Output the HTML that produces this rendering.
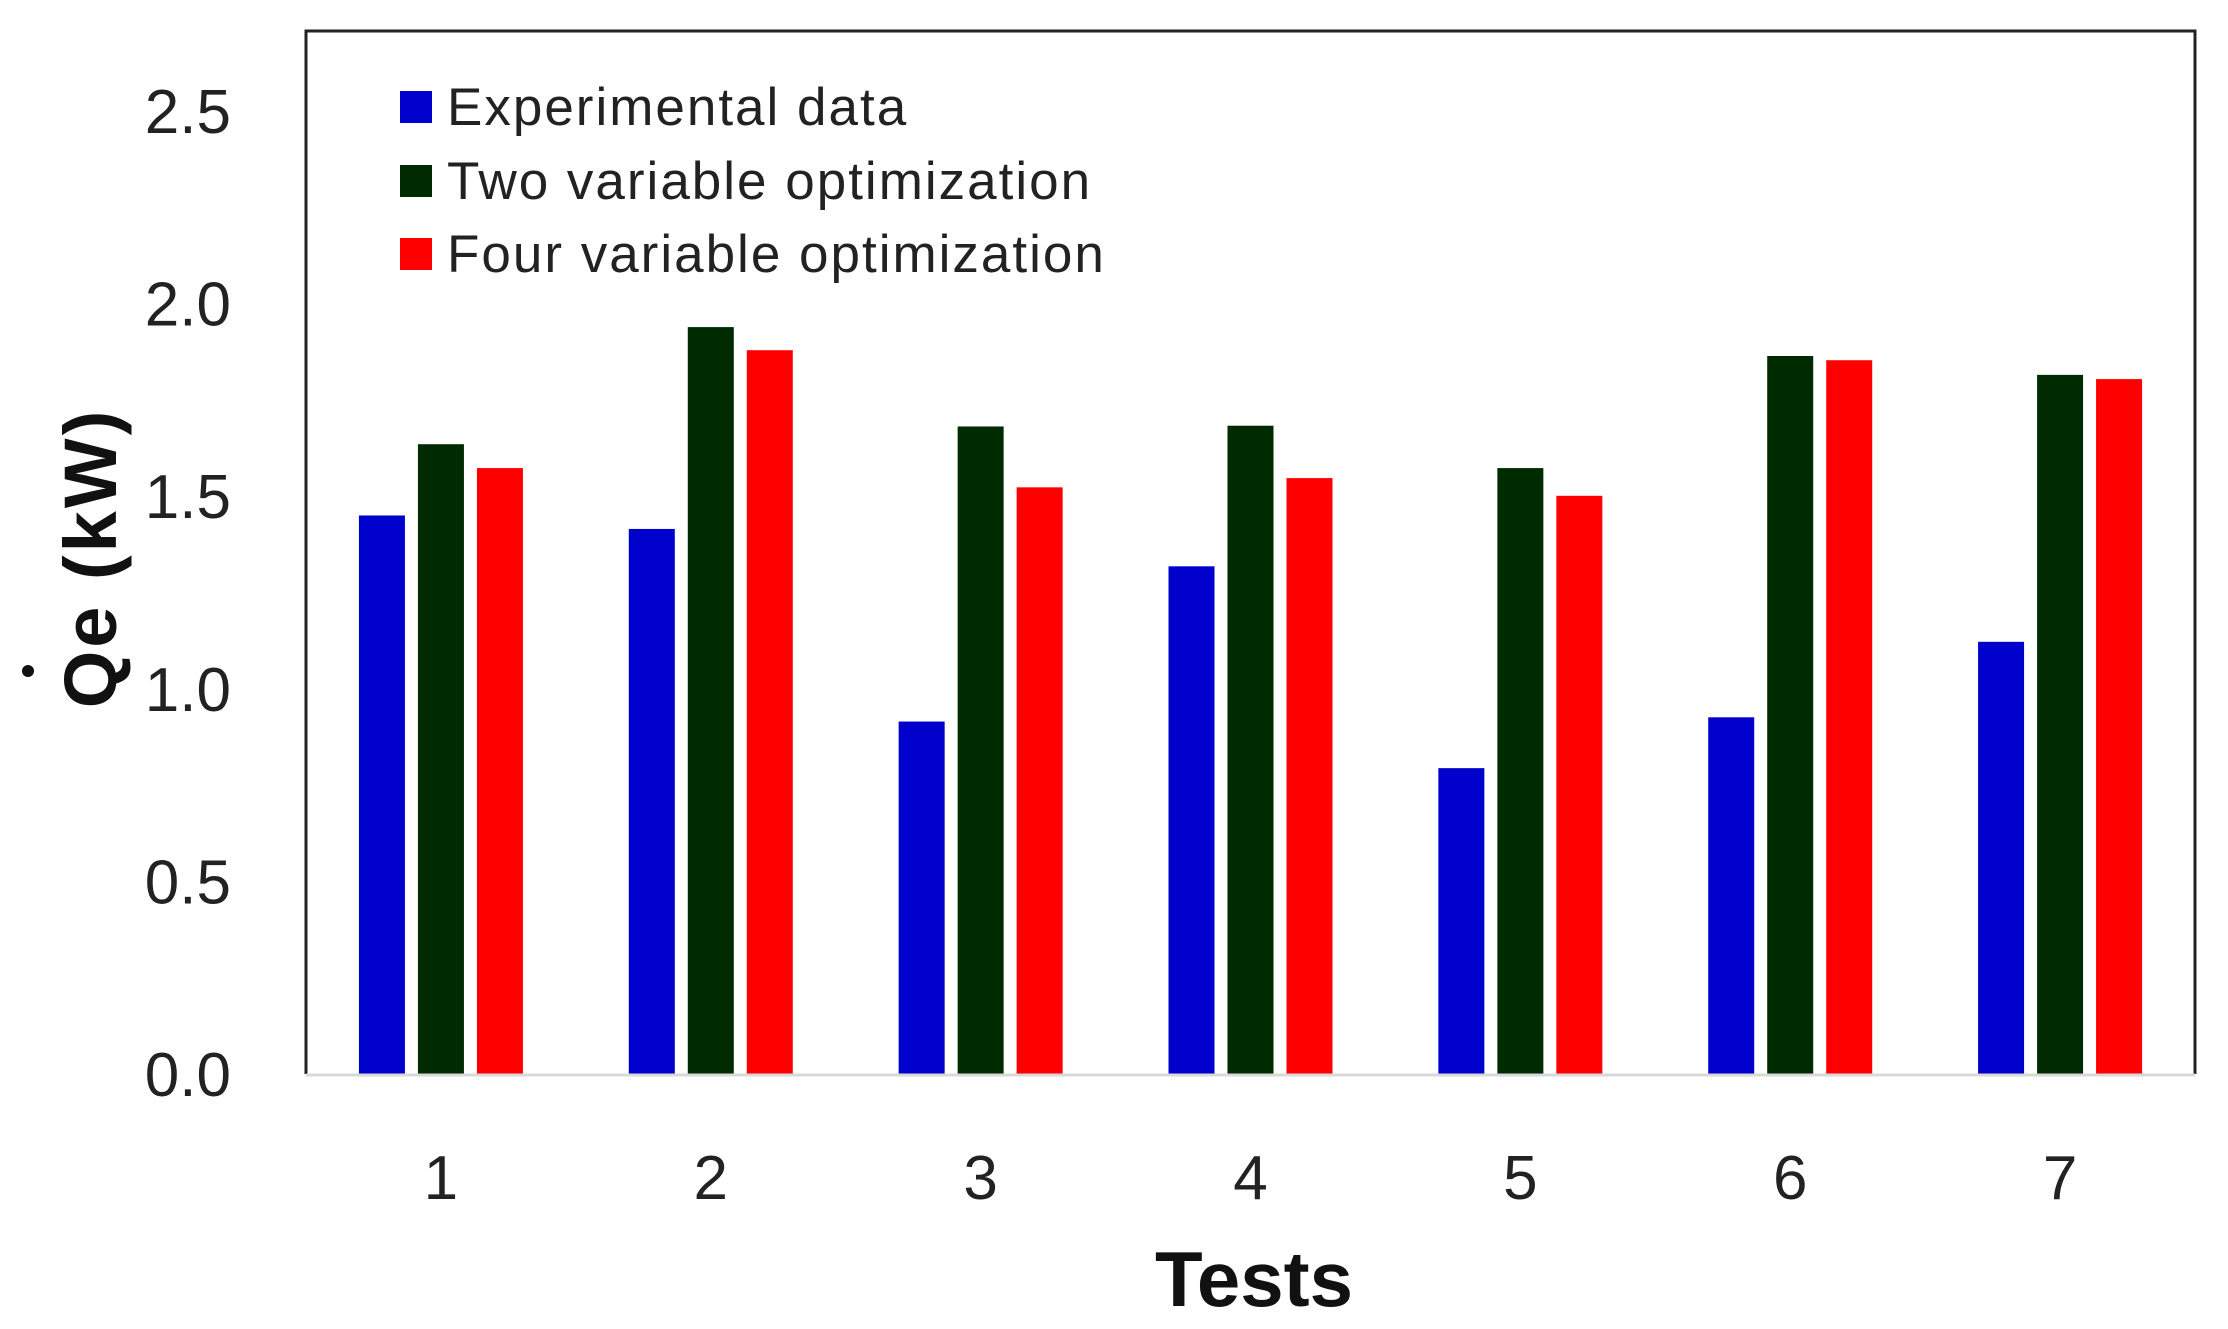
<!DOCTYPE html>
<html><head><meta charset="utf-8"><style>
html,body{margin:0;padding:0;background:#fff;}
svg{display:block;font-family:"Liberation Sans",sans-serif;}
</style></head><body>
<svg id="chart" width="2228" height="1329" viewBox="0 0 2228 1329">
<g id="bars"></g>
<g id="axes"></g>
</svg>
<script>
const categories = ["1","2","3","4","5","6","7"];
const experimental = [1.45,1.415,0.915,1.318,0.794,0.926,1.122];
const twoVar = [1.635,1.939,1.681,1.683,1.573,1.864,1.815];
const fourVar = [1.573,1.879,1.523,1.547,1.501,1.853,1.804];
const yTicks = ["0.0","0.5","1.0","1.5","2.0","2.5"];
const seriesNames = ["Experimental data","Two variable optimization","Four variable optimization"];

const NS = "http://www.w3.org/2000/svg";
const L = 306, R = 2195, T = 31, B = 1074, pxPerUnit = 385.2;
const y = v => B - v * pxPerUnit;
const slot = (R - L) / categories.length;
const x = i => L + slot * (i + 0.5);
function mk(tag, attrs, parent){const e=document.createElementNS(NS,tag);for(const k in attrs)e.setAttribute(k,attrs[k]);parent.appendChild(e);return e;}
const bars = document.getElementById("bars");
const axes = document.getElementById("axes");
const series = [experimental, twoVar, fourVar];
const colors = ["#0000cc","#002b00","#ff0000"];
const offsets = [-59, 0, 59];
const bw = 46;
series.forEach((s, si) => {
  s.forEach((v, i) => {
    const r = mk("rect", {x: x(i) + offsets[si] - bw/2, y: y(v), width: bw, height: B - y(v), fill: colors[si]}, bars);
    
    
  });
});
const fr = mk("path", {d:`M${L} ${B} L${L} ${T} L${R} ${T} L${R} ${B}`, fill:"none", stroke:"#222", "stroke-width":3}, axes);


const bl = mk("line", {x1:L, x2:R, y1:B+1, y2:B+1, stroke:"#d9d9d9", "stroke-width":3}, axes);


yTicks.forEach(t => {
  const e = mk("text", {x:231, y:y(parseFloat(t)) + 22, "text-anchor":"end", "font-size":62, fill:"#222"}, axes);
  e.textContent = t;
  
  
});
categories.forEach((c, i) => {
  const e = mk("text", {x:x(i), y:1199, "text-anchor":"middle", "font-size":62, fill:"#222"}, axes);
  e.textContent = c;
  
  
});
const xt = mk("text", {x:1254, y:1306, "text-anchor":"middle", "font-size":78, "font-weight":"bold", fill:"#111"}, axes);
xt.textContent = "Tests";


const yt = mk("text", {x:0, y:0, "text-anchor":"middle", "font-size":74, "font-weight":"bold", fill:"#111", transform:"translate(116,558) rotate(-90)", "letter-spacing":"3"}, axes);
yt.textContent = "Qe (kW)";


const dot = mk("circle", {cx:28, cy:671, r:6, fill:"#111"}, axes);


const legY = [107, 181, 254];
seriesNames.forEach((n, i) => {
  const g = mk("g", {}, axes);
  
  
  mk("rect", {x:400, y:legY[i]-16, width:32, height:32, fill:colors[i]}, g);
  const t = mk("text", {x:447, y:legY[i]+18, "font-size":53, fill:"#222", "letter-spacing":"2"}, g);
  t.textContent = n;
});
</script>
</body></html>
